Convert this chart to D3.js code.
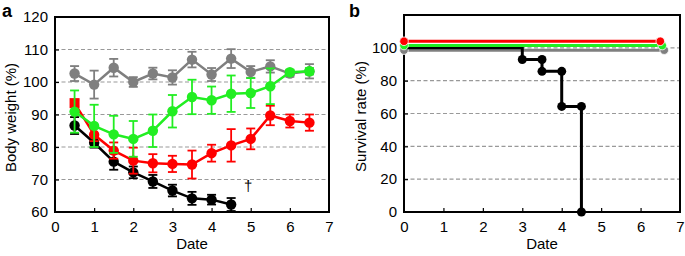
<!DOCTYPE html>
<html>
<head>
<meta charset="utf-8">
<script src="https://cdn.jsdelivr.net/npm/d3@7"></script>
<style>
  body { margin: 0; background: #fff; }
  text { font-family: "Liberation Sans", Arial, sans-serif; fill: #000; }
</style>
</head>
<body>
<div id="chart"></div>
<script>
// ---- data ----
var days = [0.5, 1, 1.5, 2, 2.5, 3, 3.5, 4, 4.5, 5, 5.5, 6, 6.5];

var grayMean  = [102.6, 99.2, 104.4, 100.0, 102.6, 101.4, 106.9, 102.3, 107.2, 103.1, 104.8, 102.6, 103.3];
var grayErr   = [2.3, 4.3, 2.7, 1.5, 1.8, 2.2, 2.4, 2.0, 2.9, 1.8, 1.9, 1.0, 2.2];
var greenMean = [90.9, 86.5, 83.9, 82.5, 85.0, 91.0, 95.4, 94.4, 96.4, 96.6, 98.7, 103.0, 103.3];
var greenErr  = [6.5, 6.5, 5.7, 5.5, 5.0, 5.0, 5.3, 4.2, 5.6, 4.6, 5.5, 0.8, 1.0];
var redMean   = [93.5, 83.8, 78.9, 75.8, 75.0, 74.8, 74.6, 78.1, 80.5, 82.5, 89.7, 88.0, 87.5];
var redErr    = [1.0, 2.0, 2.5, 4.0, 2.8, 2.5, 4.3, 2.6, 5.0, 3.2, 3.0, 2.0, 2.5];
var blackMean = [86.6, 81.3, 75.5, 72.2, 69.4, 66.6, 64.2, 63.8, 62.3, null, null, null, null];
var blackErr  = [2.6, 1.5, 2.5, 1.8, 2.0, 1.8, 2.0, 1.5, 2.0, null, null, null, null];

var weightTicks = [60, 70, 80, 90, 100, 110, 120];
var dateTicks = [0, 1, 2, 3, 4, 5, 6, 7];
var survivalTicks = [0, 20, 40, 60, 80, 100];

// survival curves (step points)
var survRedX = [0, 6.5],   survRedY = [104, 104];
var survGreenX = [0, 6.55], survGreenY = [101.4, 101.4];
var survGrayX = [0, 6.6],  survGrayY = [98.6, 98.6];
var survBlackX = [0, 3, 3, 3.5, 3.5, 4, 4, 4.5, 4.5];
var survBlackY = [100, 100, 92.9, 92.9, 85.7, 85.7, 64.3, 64.3, 0];
var survBlackDots = [2, 3, 4, 5, 6, 7, 8]; // indices with markers

var GRAY = "#7f7f7f", GREEN = "#22ee22", RED = "#ff0000", BLACK = "#000000";

var svg = d3.select("#chart").append("svg")
  .attr("width", 685).attr("height", 256);

function styleAxis(a) {
  a.select(".domain").remove();
  a.selectAll("text").style("font-size", "15px").attr("fill", "#000")
    .style("font-family", '"Liberation Sans", Arial, sans-serif');
  a.selectAll("line").attr("stroke", "#000").attr("stroke-width", 1.2);
}

function frame(x, y, gridVals, xlabel, ylabel, ylabelX) {
  var g = svg.append("g");
  var x0 = x.range()[0], x1 = x.range()[1];
  var y0 = y.range()[0], y1 = y.range()[1];

  // dashed gridlines
  g.selectAll("line.grid").data(gridVals).enter().append("line")
    .attr("x1", x0).attr("x2", x1)
    .attr("y1", function(d) { return y(d); })
    .attr("y2", function(d) { return y(d); })
    .attr("stroke", "#999").attr("stroke-width", 1.2)
    .attr("stroke-dasharray", "4,2.5");

  var ax = g.append("g").attr("transform", "translate(0," + y0 + ")")
    .call(d3.axisBottom(x).tickValues(dateTicks).tickFormat(d3.format("d"))
      .tickSizeInner(-4).tickSizeOuter(0).tickPadding(9));
  styleAxis(ax);
  ax.selectAll(".tick").filter(function(d) { return d === 0 || d === 7; }).select("line").remove();

  // box
  g.append("rect").attr("x", x0).attr("y", y1)
    .attr("width", x1 - x0).attr("height", y0 - y1)
    .attr("fill", "none").attr("stroke", "#000").attr("stroke-width", 2);

  g.append("text").attr("x", (x0 + x1) / 2).attr("y", 249)
    .attr("text-anchor", "middle").style("font-size", "15px").text(xlabel);
  g.append("text")
    .attr("transform", "translate(" + ylabelX + "," + ((y0 + y1) / 2 + 3) + ") rotate(-90)")
    .attr("text-anchor", "middle").style("font-size", "15px").text(ylabel);
  return g;
}

// ---------- panel a ----------
var xa = d3.scaleLinear().domain([0, 7]).range([55, 329]);
var ya = d3.scaleLinear().domain([60, 120]).range([212, 17]);
var fa = frame(xa, ya, [70, 80, 90, 100, 110], "Date", "Body weight (%)", 16);
var aya = fa.append("g").attr("transform", "translate(55,0)")
  .call(d3.axisLeft(ya).tickValues(weightTicks).tickSizeInner(-4).tickSizeOuter(0).tickPadding(7));
styleAxis(aya);
aya.selectAll(".tick").filter(function(d) { return d === 60 || d === 120; }).select("line").remove();

var seriesA = [
  { mean: grayMean, err: grayErr, color: GRAY },
  { mean: blackMean, err: blackErr, color: BLACK },
  { mean: redMean, err: redErr, color: RED },
  { mean: greenMean, err: greenErr, color: GREEN }
];

var line = d3.line()
  .x(function(d) { return xa(d.x); })
  .y(function(d) { return ya(d.m); });

seriesA.forEach(function(s) {
  var pts = days.map(function(x, i) { return { x: x, m: s.mean[i], e: s.err[i] }; })
    .filter(function(d) { return d.m !== null; });
  var g = svg.append("g");
  // error bars
  var eb = g.selectAll("g.eb").data(pts).enter().append("g")
    .attr("stroke", s.color).attr("stroke-width", 1.8);
  eb.append("line")
    .attr("x1", function(d) { return xa(d.x); }).attr("x2", function(d) { return xa(d.x); })
    .attr("y1", function(d) { return ya(d.m + d.e); }).attr("y2", function(d) { return ya(d.m - d.e); });
  [1, -1].forEach(function(sgn) {
    eb.append("line")
      .attr("x1", function(d) { return xa(d.x) - 4.5; }).attr("x2", function(d) { return xa(d.x) + 4.5; })
      .attr("y1", function(d) { return ya(d.m + sgn * d.e); })
      .attr("y2", function(d) { return ya(d.m + sgn * d.e); });
  });
  g.append("path").datum(pts).attr("d", line)
    .attr("fill", "none").attr("stroke", s.color).attr("stroke-width", 2.5);
  g.selectAll("circle").data(pts.filter(function(d, i) { return !(s.color === RED && i === 0); }))
    .enter().append("circle")
    .attr("cx", function(d) { return xa(d.x); }).attr("cy", function(d) { return ya(d.m); })
    .attr("r", 5.2).attr("fill", s.color);
  if (s.color === RED) {
    g.append("rect").attr("x", xa(pts[0].x) - 5).attr("y", ya(pts[0].m) - 5)
      .attr("width", 10).attr("height", 10).attr("fill", RED);
  }
});

svg.append("text").attr("x", xa(4.83)).attr("y", ya(66.5))
  .attr("fill", "#000").style("font-size", "15px").text("\u2020");

// ---------- panel b ----------
var xb = d3.scaleLinear().domain([0, 7]).range([404, 680]);
var yb = d3.scaleLinear().domain([0, 120]).range([212, 15]);
var fb = frame(xb, yb, [20, 40, 60, 80, 100], "Date", "Survival rate (%)", 366);
var ayb = fb.append("g").attr("transform", "translate(404,0)")
  .call(d3.axisLeft(yb).tickValues(survivalTicks).tickSizeInner(-4).tickSizeOuter(0).tickPadding(7));
styleAxis(ayb);
ayb.selectAll(".tick").filter(function(d) { return d === 0; }).select("line").remove();

var lineB = d3.line().x(function(d) { return xb(d[0]); }).y(function(d) { return yb(d[1]); });

// gray first, then black so its flat part peeks out between gray and green
var curves = [
  { xs: survGrayX, ys: survGrayY, color: GRAY },
  { xs: survBlackX, ys: survBlackY, color: BLACK, dots: survBlackDots },
  { xs: survGreenX, ys: survGreenY, color: GREEN },
  { xs: survRedX, ys: survRedY, color: RED }
];
curves.forEach(function(s) {
  var pts = s.xs.map(function(x, i) { return [x, s.ys[i]]; });
  svg.append("path").datum(pts).attr("d", lineB)
    .attr("fill", "none").attr("stroke", s.color).attr("stroke-width", 3);
  var dotPts = s.dots ? s.dots.map(function(i) { return pts[i]; }) : pts;
  svg.selectAll(null).data(dotPts).enter().append("circle")
    .attr("cx", function(d) { return xb(d[0]); }).attr("cy", function(d) { return yb(d[1]); })
    .attr("r", s.dots ? 4.5 : 4.3).attr("fill", s.color)
    .attr("stroke", s.dots ? "none" : "#fff").attr("stroke-width", 0.8);
});

// panel letters
svg.append("text").attr("x", 2).attr("y", 17).style("font-size", "18px")
  .style("font-weight", "bold").text("a");
svg.append("text").attr("x", 349).attr("y", 17).style("font-size", "18px")
  .style("font-weight", "bold").text("b");
</script>
</body>
</html>
